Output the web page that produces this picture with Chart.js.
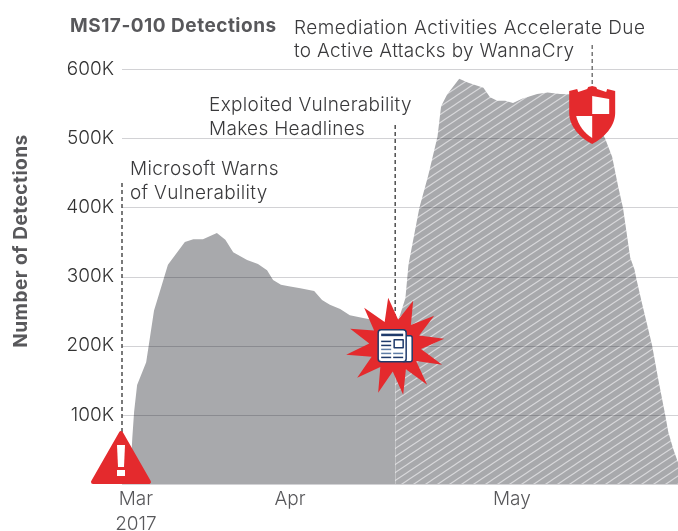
<!DOCTYPE html>
<html>
<head>
<meta charset="utf-8">
<title>MS17-010 Detections</title>
<script src="https://cdn.jsdelivr.net/npm/chart.js@4"></script>
<style>
    html, body { margin: 0; padding: 0; background: #fff; }
    canvas { display: block; }
</style>
</head>
<body>
<canvas id="detections" width="678" height="531"></canvas>
<script>
// x values are days counted from the start of the plot, y values are thousands of detections
const daysBefore = [1.3, 1.7, 2.0, 2.5, 4.0, 5.3, 6.6, 7.6, 10.4, 11.8, 13.4, 15.7, 17.1, 18.4, 20.7, 22.5, 24.0, 25.0, 26.3, 27.6, 29.5, 31.8, 33.1, 34.4, 36.1, 37.7, 39.9, 41.6, 45.2];
const detectionsBefore = [0, 66, 104, 143, 176, 251, 288, 317, 350, 354, 354, 363, 353, 335, 324, 318, 309, 295, 288, 286, 283, 279, 266, 259, 253, 244, 240, 237, 231];

const daysAfter = [45.2, 46.0, 46.9, 47.4, 49.2, 50.7, 52.2, 52.8, 53.8, 55.8, 57.3, 59.8, 60.9, 62.1, 63.4, 64.7, 66.2, 68.7, 70.4, 72.5, 75.0, 77.5, 79.1, 80.0, 81.1, 82.1, 82.9, 84.1, 84.8, 85.1, 86.1, 87.7, 88.7, 89.9, 90.4, 91.2, 92.0];
const detectionsAfter = [231, 244, 269, 317, 399, 447, 502, 546, 563, 586, 580, 573, 559, 554, 554, 551, 557, 564, 566, 564, 563, 544, 515, 498, 473, 430, 399, 327, 310, 297, 259, 201, 153, 99, 75, 51, 31];

const monthTicks = [2.3, 27.8, 64.5];
const monthLabels = [['Mar', '2017'], 'Apr', 'May'];
const yTicks = [0, 100, 200, 300, 400, 500, 600];

const warnDay = 0;
const headlineDay = 45.2;
const wannaCryDay = 77.8;

const areaGray = '#a8a9ac';
const alertRed = '#e42a2d';
const navy = '#1f3a6b';
const textFont = '300 19px Inter, sans-serif';

// diagonal hatch for the part of the area after the headlines
const makeHatch = function() {
    const tile = document.createElement('canvas');
    tile.width = 12;
    tile.height = 8;
    const c = tile.getContext('2d');
    c.fillStyle = areaGray;
    c.fillRect(0, 0, 12, 8);
    c.strokeStyle = '#d9d9db';
    c.lineWidth = 1.1;
    c.beginPath();
    c.moveTo(-12, 16); c.lineTo(24, -8);
    c.moveTo(-12, 8); c.lineTo(12, -8);
    c.moveTo(0, 16); c.lineTo(24, 0);
    c.stroke();
    return c.createPattern(tile, 'repeat');
};

const toPoints = function(xs, ys) {
    return xs.map((x, i) => ({ x: x, y: ys[i] }));
};

const polygon = function(c, pts) {
    c.beginPath();
    pts.forEach((p, i) => i ? c.lineTo(p[0], p[1]) : c.moveTo(p[0], p[1]));
    c.closePath();
};

const drawTriangle = function(c, x, y) {
    c.fillStyle = alertRed;
    c.strokeStyle = alertRed;
    c.lineWidth = 4;
    c.lineJoin = 'round';
    polygon(c, [[x, y - 51], [x + 28, y - 2], [x - 28, y - 2]]);
    c.fill();
    c.stroke();
    c.fillStyle = '#fff';
    polygon(c, [[x - 4, y - 39], [x + 4, y - 39], [x + 3, y - 17], [x - 3, y - 17]]);
    c.fill();
    c.fillRect(x - 4, y - 14, 8, 6);
};

const drawStar = function(c, x, y) {
    const tips = [[-7, -48], [18, -45], [39, -30], [49, -7], [47, 19], [32, 39], [8, 49], [-17, 47], [-38, 32], [-49, 9], [-45, -17], [-31, -38]];
    const pts = [];
    tips.forEach((t, i) => {
        const next = tips[(i + 1) % tips.length];
        pts.push(t);
        const mx = t[0] + next[0], my = t[1] + next[1];
        const len = Math.hypot(mx, my);
        pts.push([mx / len * 26, my / len * 26]);
    });
    c.fillStyle = alertRed;
    polygon(c, pts.map(p => [x + p[0], y + p[1]]));
    c.fill();

    // newspaper
    const left = x - 17, top = y - 16;
    c.fillStyle = '#fff';
    c.strokeStyle = navy;
    c.lineWidth = 1.5;
    c.beginPath();
    c.roundRect(left + 24, top + 6, 10, 26, 2);
    c.fill();
    c.stroke();
    c.beginPath();
    c.roundRect(left, top, 28, 32, 3);
    c.fill();
    c.stroke();
    c.fillStyle = navy;
    c.fillRect(left + 3, top + 4, 22, 2.5);
    c.fillRect(left + 3, top + 11, 10, 1.5);
    c.fillRect(left + 3, top + 15, 10, 1.5);
    c.fillStyle = '#5f7da6';
    c.fillRect(left + 3, top + 19, 10, 1.5);
    c.fillRect(left + 3, top + 23, 10, 1.5);
    c.fillRect(left + 15, top + 23, 10, 1.5);
    c.fillStyle = navy;
    c.fillRect(left + 3, top + 27, 10, 1.5);
    c.fillRect(left + 15, top + 27, 10, 1.5);
    c.strokeRect(left + 16, top + 10, 9, 8);
};

const drawShield = function(c, x, y) {
    c.fillStyle = alertRed;
    c.beginPath();
    c.moveTo(x - 23, y + 5);
    c.lineTo(x - 15, y + 3);
    c.lineTo(x - 14, y + 6);
    c.lineTo(x - 5, y + 3);
    c.lineTo(x - 4, y + 1);
    c.lineTo(x, y);
    c.lineTo(x + 4, y + 1);
    c.lineTo(x + 5, y + 3);
    c.lineTo(x + 14, y + 6);
    c.lineTo(x + 15, y + 3);
    c.lineTo(x + 23, y + 5);
    c.lineTo(x + 23, y + 27);
    c.bezierCurveTo(x + 23, y + 40, x + 12, y + 52, x, y + 58);
    c.bezierCurveTo(x - 12, y + 52, x - 23, y + 40, x - 23, y + 27);
    c.closePath();
    c.fill();
    c.fillStyle = '#fff';
    polygon(c, [[x, y + 10], [x + 17, y + 13], [x + 17, y + 28], [x, y + 28]]);
    c.fill();
    c.beginPath();
    c.moveTo(x - 16, y + 30);
    c.lineTo(x, y + 30);
    c.lineTo(x, y + 52);
    c.bezierCurveTo(x - 8, y + 47, x - 14, y + 39, x - 16, y + 30);
    c.closePath();
    c.fill();
};

const dashed = function(c, x, y1, y2, color) {
    c.save();
    c.strokeStyle = color;
    c.lineWidth = 1.2;
    c.setLineDash([4, 3]);
    c.beginPath();
    c.moveTo(x, y1);
    c.lineTo(x, y2);
    c.stroke();
    c.restore();
};

const textLines = function(c, lines, x, y, gap) {
    lines.forEach((line, i) => c.fillText(line, x, y + i * gap));
};

// gridlines multiply over the area, so they look darker on the gray than on the white
const gridOverlay = {
    id: 'gridOverlay',
    afterDatasetsDraw(chart) {
        const c = chart.ctx;
        const area = chart.chartArea;
        const yScale = chart.scales.y;
        c.save();
        c.globalCompositeOperation = 'multiply';
        c.strokeStyle = '#d2d2d5';
        c.lineWidth = 1;
        yTicks.forEach(v => {
            const py = Math.round(yScale.getPixelForValue(v)) + 0.5;
            c.beginPath();
            c.moveTo(area.left, py);
            c.lineTo(area.right, py);
            c.stroke();
        });
        c.restore();
    }
};

const annotations = {
    id: 'annotations',
    afterDraw(chart) {
        const c = chart.ctx;
        const xScale = chart.scales.x;
        const yScale = chart.scales.y;
        const warnX = xScale.getPixelForValue(warnDay);
        const headlineX = xScale.getPixelForValue(headlineDay);
        const cryX = xScale.getPixelForValue(wannaCryDay);
        const baseY = yScale.getPixelForValue(0);

        c.save();
        dashed(c, warnX, 183, 432, '#222');
        dashed(c, headlineX, 125, 320, '#222');
        dashed(c, cryX, 45, 88, '#555');

        drawTriangle(c, warnX - 1, baseY);
        drawStar(c, headlineX, yScale.getPixelForValue(200));
        drawShield(c, cryX, 86);

        c.textBaseline = 'alphabetic';
        c.textAlign = 'left';
        c.fillStyle = '#3a3a3c';
        c.font = textFont;
        c.letterSpacing = '0.45px';
        c.fillText('Remediation Activities Accelerate Due', 294, 34);
        c.letterSpacing = '0.32px';
        c.fillText('to Active Attacks by WannaCry', 294, 57);
        textLines(c, ['Exploited Vulnerability', 'Makes Headlines'], 209, 111, 24);
        textLines(c, ['Microsoft Warns', 'of Vulnerability'], 130, 175, 24);

        c.fillStyle = '#58585b';
        c.font = 'bold 19px Inter, sans-serif';
        c.letterSpacing = '0.5px';
        c.fillText('MS17-010 Detections', 70, 32);

        c.translate(27, 241);
        c.rotate(-Math.PI / 2);
        c.textAlign = 'center';
        c.fillText('Number of Detections', 0, 0);
        c.restore();
    }
};

const ctx = document.getElementById('detections').getContext('2d');
const detectionsChart = new Chart(ctx, {
    type: 'line',
    data: {
        datasets: [{
            data: toPoints(daysBefore, detectionsBefore),
            backgroundColor: areaGray,
            borderWidth: 0,
            pointRadius: 0,
            tension: 0,
            fill: 'origin',
        }, {
            data: toPoints(daysAfter, detectionsAfter),
            backgroundColor: makeHatch(),
            borderWidth: 0,
            pointRadius: 0,
            tension: 0,
            fill: 'origin',
        }]
    },
    options: {
        responsive: false,
        animation: false,
        maintainAspectRatio: false,
        layout: {
            padding: { top: 69, right: 0, bottom: 0, left: 0 },
        },
        plugins: {
            legend: { display: false },
            tooltip: { enabled: false },
        },
        scales: {
            x: {
                type: 'linear',
                min: 0,
                max: 92,
                grid: { display: false, drawTicks: false },
                border: { display: false },
                afterBuildTicks: function(axis) {
                    axis.ticks = monthTicks.map(v => ({ value: v }));
                },
                afterFit: function(axis) {
                    axis.height = 47;
                },
                ticks: {
                    autoSkip: false,
                    maxRotation: 0,
                    padding: 3,
                    color: '#58585b',
                    font: { family: 'Inter, sans-serif', size: 19, weight: 300, lineHeight: 1.32 },
                    callback: function(value) {
                        return monthLabels[monthTicks.indexOf(value)];
                    },
                },
            },
            y: {
                min: 0,
                max: 600,
                grid: { display: false, drawTicks: false },
                border: { display: false },
                afterBuildTicks: function(axis) {
                    axis.ticks = yTicks.map(v => ({ value: v }));
                },
                afterFit: function(axis) {
                    axis.width = 122;
                },
                ticks: {
                    padding: 8,
                    color: '#333',
                    font: { family: 'Inter, sans-serif', size: 19, weight: 300 },
                    callback: function(value) {
                        return value === 0 ? '' : value + 'K';
                    },
                },
            },
        },
    },
    plugins: [gridOverlay, annotations],
});
</script>
</body>
</html>
